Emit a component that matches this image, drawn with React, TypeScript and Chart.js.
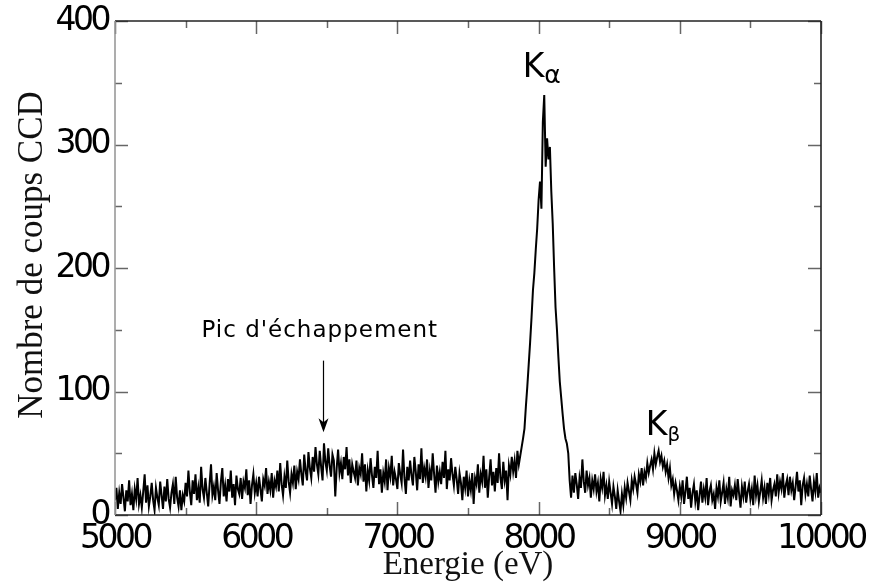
import React, { useEffect, useRef } from "react";
import { Chart, registerables } from "chart.js";

Chart.register(...registerables);

// Energy grid (eV): first channel and channel width
const ENERGY_START = 5000;
const ENERGY_STEP = 10;

// CCD counts per 10 eV channel, 5000 eV .. 10000 eV
const COUNTS = [
  12, 22, 5, 18, 9, 25, 14, 3, 20, 11,
  28, 8, 17, 4, 21, 13, 30, 9, 16, 6,
  19, 33, 10, 24, 7, 15, 26, 12, 4, 22,
  14, 8, 27, 16, 5, 23, 11, 29, 13, 6,
  18, 25, 9, 31, 14, 7, 20, 4, 16, 11,
  26, 15, 36, 19, 8, 28, 17, 33, 12, 22,
  10, 39, 21, 14, 30, 18, 7, 25, 41, 16,
  23, 12, 34, 20, 9, 27, 38, 15, 24, 11,
  29, 19, 36, 14, 25, 8, 32, 21, 17, 30,
  13, 27, 22, 37, 16, 28, 9, 24, 33, 18,
  26, 15, 31, 21, 11, 29, 24, 38, 17, 27,
  20, 34, 14, 28, 23, 36, 19, 42, 25, 16,
  31, 22, 44, 27, 18, 33, 26, 40, 21, 35,
  29, 45, 33, 24, 49, 36, 28, 51, 38, 30,
  47, 35, 55, 41, 33, 52, 39, 28, 58, 43,
  36, 54, 40, 31, 49, 44, 15, 38, 53, 34,
  42, 29, 47, 37, 55, 32, 45, 26, 41, 35,
  30, 44, 24, 38, 33, 50, 27, 41, 19, 36,
  28, 46, 32, 22, 39, 30, 52, 25, 37, 18,
  34, 27, 45, 20, 38, 31, 48, 24, 35, 29,
  21, 42, 33, 26, 53, 30, 17, 39, 28, 44,
  32, 24, 47, 35, 20, 41, 29, 54, 26, 38,
  31, 45, 22, 36, 28, 50, 33, 18, 40, 27,
  35, 25, 43, 30, 52, 21, 37, 28, 46, 33,
  24, 39, 29, 17, 34, 26, 12, 31, 22, 36,
  15, 28, 20, 34, 9, 30, 25, 41, 18, 33,
  27, 48, 22, 37, 14, 31, 45, 24, 35, 19,
  38, 26, 50, 30, 21, 43, 28, 36, 12, 40,
  33, 47, 35, 44, 30, 52, 41, 48, 55, 62,
  70, 88, 104, 122, 140, 160, 182, 196, 215, 232,
  255, 270, 248, 318, 340, 282, 305, 288, 298, 262,
  236, 200, 168, 150, 128, 108, 95, 82, 70, 62,
  58, 50, 28, 14, 32, 18, 34, 25, 13, 30,
  22, 45, 27, 18, 36, 24, 30, 14, 28, 21,
  33, 19, 26, 11, 29, 22, 35, 16, 24, 13,
  27, 18, 9, 23, 15, 5, 20, 11, 3, 17,
  8, 22, 14, 26, 19, 12, 28, 21, 31, 25,
  18, 33, 27, 38, 24, 35, 30, 42, 34, 40,
  45, 37, 50, 41, 47, 52, 43, 48, 39, 44,
  35, 41, 30, 38, 24, 29, 17, 26, 20, 12,
  23, 15, 28, 9, 19, 31, 13, 22, 6, 18,
  25, 11, 20, 4, 16, 27, 10, 21, 14, 30,
  8, 19, 24, 12, 17, 5, 22, 15, 28, 11,
  18, 26, 9, 21, 14, 31, 7, 20, 16, 24,
  12, 29, 17, 6, 23, 15, 27, 10, 19, 25,
  13, 21, 8, 32, 16, 24, 11, 19, 28, 14,
  22, 9, 26, 17, 30, 12, 20, 25, 15, 33,
  18, 27, 21, 34, 14, 24, 29, 16, 31, 20,
  26, 12, 23, 35, 19, 28, 8, 24, 30, 17,
  25, 15, 32, 21, 11, 27, 19, 34, 14, 22,
  18,
];

const X_MIN = 5000;
const X_MAX = 10000;
const X_MAJOR = 1000;
const X_MINOR = 500;
const Y_MIN = 0;
const Y_MAX = 400;
const Y_MAJOR = 100;
const Y_MINOR = 50;

const X_TITLE = "Energie (eV)";
const Y_TITLE = "Nombre de coups CCD";

// Annotations (anchored in data coordinates)
const ESCAPE_LABEL = "Pic d'échappement";
const ESCAPE_LABEL_POS = { x: 6450, y: 144 };
const ESCAPE_ARROW = { x: 6475, from: 125, to: 67 };
const K_ALPHA = { main: "K", sub: "α", x: 7887, y: 355 };
const K_BETA = { main: "K", sub: "β", x: 8759, y: 65 };

const TICK_FONT = "'DejaVu Sans', sans-serif";
const TITLE_FONT = "'Liberation Serif', 'DejaVu Serif', serif";
const NOTE_FONT = "'DejaVu Sans', sans-serif";

// tight digit spacing of the tick labels (only the scales are drawn in between)
const tightTicksPlugin = {
  id: "tightTicks",
  beforeDraw(chart: any) {
    try { (chart.ctx as any).letterSpacing = "-3.5px"; } catch (e) {}
  },
  beforeDatasetsDraw(chart: any) {
    try { (chart.ctx as any).letterSpacing = "0px"; } catch (e) {}
  },
};

const framePlugin = {
  id: "frame",
  afterDatasetsDraw(chart: any) {
    const { ctx, chartArea: a, scales } = chart;
    const xs = scales.x;
    const ys = scales.y;
    const seg = (x1: number, y1: number, x2: number, y2: number) => {
      ctx.beginPath();
      ctx.moveTo(x1, y1);
      ctx.lineTo(x2, y2);
      ctx.stroke();
    };
    ctx.save();
    ctx.strokeStyle = "#666";
    ctx.lineWidth = 1.5;
    for (let v = X_MIN; v <= X_MAX; v += X_MINOR) {
      const px = Math.round(xs.getPixelForValue(v)) + 0.5;
      const len = v % X_MAJOR === 0 ? 13 : 7;
      seg(px, a.bottom, px, a.bottom - len);
      seg(px, a.top, px, a.top + len);
    }
    for (let v = Y_MIN; v <= Y_MAX; v += Y_MINOR) {
      const py = Math.round(ys.getPixelForValue(v)) + 0.5;
      const len = v % Y_MAJOR === 0 ? 13 : 7;
      seg(a.left, py, a.left + len, py);
      seg(a.right, py, a.right - len, py);
    }
    ctx.lineWidth = 1.6;
    ctx.strokeStyle = "#222";
    seg(a.left, a.top, a.right, a.top);
    seg(a.right, a.top, a.right, a.bottom);
    seg(a.left, a.bottom, a.right, a.bottom);
    ctx.strokeStyle = "#999";
    seg(a.left, a.top, a.left, a.bottom);
    ctx.restore();
  },
};

const annotationPlugin = {
  id: "notes",
  afterDraw(chart: any) {
    const { ctx, scales, chartArea: a } = chart;
    const xs = scales.x;
    const ys = scales.y;
    ctx.save();
    try { (ctx as any).letterSpacing = "0px"; } catch (e) {}
    ctx.fillStyle = "#000";
    ctx.strokeStyle = "#000";
    ctx.textBaseline = "alphabetic";

    // axis titles
    ctx.save();
    ctx.font = `33px ${TITLE_FONT}`;
    ctx.textAlign = "center";
    ctx.textBaseline = "middle";
    ctx.fillStyle = "#111";
    ctx.fillText(X_TITLE, (a.left + a.right) / 2, 565);
    ctx.translate(33, (a.top + a.bottom) / 2 - 13);
    ctx.rotate(-Math.PI / 2);
    ctx.font = `35px ${TITLE_FONT}`;
    ctx.fillText(Y_TITLE, 0, 0);
    ctx.restore();

    // escape peak label
    ctx.font = `23px ${NOTE_FONT}`;
    ctx.textAlign = "center";
    try { (ctx as any).letterSpacing = "1px"; } catch (e) {}
    ctx.fillText(ESCAPE_LABEL, xs.getPixelForValue(ESCAPE_LABEL_POS.x), ys.getPixelForValue(ESCAPE_LABEL_POS.y));
    try { (ctx as any).letterSpacing = "0px"; } catch (e) {}

    // arrow
    const ax = Math.round(xs.getPixelForValue(ESCAPE_ARROW.x)) + 0.5;
    const ay0 = ys.getPixelForValue(ESCAPE_ARROW.from);
    const ay1 = ys.getPixelForValue(ESCAPE_ARROW.to);
    ctx.lineWidth = 1.2;
    ctx.beginPath();
    ctx.moveTo(ax, ay0);
    ctx.lineTo(ax, ay1 - 8);
    ctx.stroke();
    ctx.beginPath();
    ctx.moveTo(ax, ay1);
    ctx.lineTo(ax - 5, ay1 - 14);
    ctx.lineTo(ax, ay1 - 10);
    ctx.lineTo(ax + 5, ay1 - 14);
    ctx.closePath();
    ctx.fill();

    // K lines
    ctx.textAlign = "left";
    const drawK = (k: { main: string; sub: string; x: number; y: number }, subSize: number) => {
      const px = xs.getPixelForValue(k.x);
      const py = ys.getPixelForValue(k.y);
      ctx.font = `33px ${NOTE_FONT}`;
      ctx.fillText(k.main, px, py);
      const w = ctx.measureText(k.main).width;
      ctx.font = `${subSize}px ${NOTE_FONT}`;
      ctx.fillText(k.sub, px + w, py + 6);
    };
    drawK(K_ALPHA, 25);
    drawK(K_BETA, 20);
    ctx.restore();
  },
};

export default function App() {
  const ref = useRef<HTMLCanvasElement | null>(null);

  useEffect(() => {
    if (!ref.current) return;
    const points = COUNTS.map((c, i) => ({ x: ENERGY_START + i * ENERGY_STEP, y: c }));
    const chart = new Chart(ref.current, {
      type: "line",
      data: {
        datasets: [
          {
            data: points,
            borderColor: "#000",
            borderWidth: 2,
            pointRadius: 0,
            tension: 0,
            fill: false,
          },
        ],
      },
      options: {
        animation: false,
        responsive: false,
        maintainAspectRatio: false,
        layout: { padding: { left: 0, right: 49, top: 21, bottom: 0 } },
        plugins: {
          legend: { display: false },
          tooltip: { enabled: false },
        },
        scales: {
          x: {
            type: "linear",
            min: X_MIN,
            max: X_MAX,
            grid: { display: false, drawTicks: false },
            border: { display: false },
            ticks: {
              stepSize: X_MAJOR,
              color: "#000",
              font: { family: TICK_FONT, size: 33 },
              padding: 5,
              maxRotation: 0,
              autoSkip: false,
              callback: (v: any) => String(v),
            },
            title: { display: false },
            afterFit: (s: any) => {
              s.height = 71;
              s.paddingLeft = 0;
              s.paddingRight = 0;
            },
          },
          y: {
            type: "linear",
            min: Y_MIN,
            max: Y_MAX,
            grid: { display: false, drawTicks: false },
            border: { display: false },
            ticks: {
              stepSize: Y_MAJOR,
              color: "#000",
              font: { family: TICK_FONT, size: 33 },
              padding: 7,
              callback: (v: any) => String(v),
            },
            title: { display: false },
            afterFit: (s: any) => {
              s.width = 115;
              s.paddingTop = 0;
              s.paddingBottom = 0;
            },
          },
        },
      },
      plugins: [tightTicksPlugin, framePlugin, annotationPlugin],
    } as any);
    return () => chart.destroy();
  }, []);

  return (
    <div style={{ position: "fixed", left: 0, top: 0, width: 870, height: 586, background: "#fff" }}>
      <canvas ref={ref} width={870} height={586} style={{ width: 870, height: 586 }} />
    </div>
  );
}
